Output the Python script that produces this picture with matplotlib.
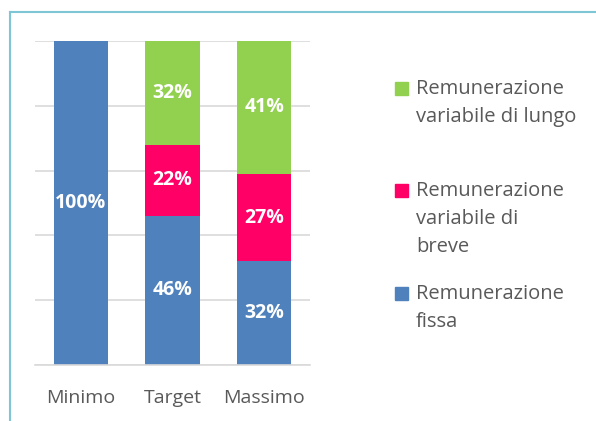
import matplotlib.pyplot as plt
from matplotlib.patches import Rectangle
from matplotlib.lines import Line2D

categories = ["Minimo", "Target", "Massimo"]
fissa = [100, 46, 32]
breve = [0, 22, 27]
lungo = [0, 32, 41]
series_names = ["Remunerazione\nvariabile di lungo",
                "Remunerazione\nvariabile di\nbreve",
                "Remunerazione\nfissa"]
colors = {"fissa": "#4F81BD", "breve": "#FF0066", "lungo": "#92D050"}

W, H = 596, 421
fig = plt.figure(figsize=(W / 100, H / 100), dpi=100)
plt.rcParams['font.family'] = ['Open Sans', 'DejaVu Sans']

ax = fig.add_axes([35 / W, (H - 365) / H, 275 / W, 324 / H])
x = range(len(categories))
bw = 0.59
ax.bar(x, fissa, bw, color=colors["fissa"], zorder=2)
ax.bar(x, breve, bw, bottom=fissa, color=colors["breve"], zorder=2)
bot2 = [a + b for a, b in zip(fissa, breve)]
ax.bar(x, lungo, bw, bottom=bot2, color=colors["lungo"], zorder=2)

for i in x:
    for val, base in ((fissa[i], 0), (breve[i], fissa[i]), (lungo[i], bot2[i])):
        if val > 0:
            ax.text(i, base + val / 2, f"{val}%", ha="center", va="center",
                    color="white", fontsize=14, fontweight="bold", zorder=3)

ax.set_xlim(-0.5, 2.5)
ax.set_ylim(0, 100)
ax.set_yticks(range(0, 101, 20))
ax.yaxis.grid(True, color="#D9D9D9", linewidth=1.2, zorder=0)
ax.set_yticklabels([])
ax.tick_params(axis="y", length=0)
ax.tick_params(axis="x", length=0, pad=17, labelsize=14, labelcolor="#595959")
ax.set_xticks(list(x))
ax.set_xticklabels(categories)
for s in ["top", "right", "left"]:
    ax.spines[s].set_visible(False)
ax.spines["bottom"].set_color("#D9D9D9")
ax.spines["bottom"].set_linewidth(1.2)

# legend drawn by hand to match spacing
leg_top = [82, 184, 287]
leg_cols = [colors["lungo"], colors["breve"], colors["fissa"]]
for name, yy, c in zip(series_names, leg_top, leg_cols):
    fig.patches.append(Rectangle((395 / W, 1 - (yy + 13) / H), 13 / W, 13 / H,
                                 transform=fig.transFigure, color=c))
    fig.text(416 / W, 1 - (yy - 3) / H, name, ha="left", va="top",
             fontsize=14.5, color="#595959", linespacing=1.53)

# frame
fig.add_artist(Line2D([10 / W, 10 / W], [0, 1 - 12 / H], color="#7EC6D6", linewidth=1.5))
fig.add_artist(Line2D([10 / W, 1], [1 - 12 / H, 1 - 12 / H], color="#7EC6D6", linewidth=1.5))

fig.savefig("out.png", dpi=100)
